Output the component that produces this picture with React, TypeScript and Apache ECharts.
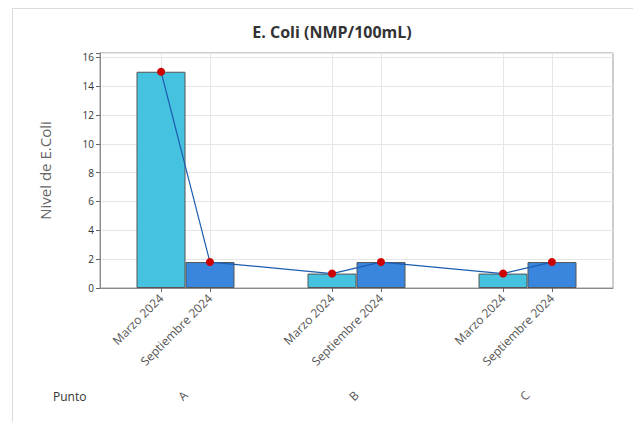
import React, { useEffect, useRef } from "react";
import * as echarts from "echarts";

const puntos = ["A", "B", "C"];
const periodos = ["Marzo 2024", "Septiembre 2024"];
const marzo = [15, 1, 1];
const septiembre = [1.8, 1.8, 1.8];
const yMax = 16.3;
const yInterval = 2;

const FONT = "'Open Sans', Lato, sans-serif";

// fine-grained point axis used for the period labels, ticks and the connecting line
const SLOTS = 43;
const slotIndex = (g: number, p: number) => 5 + 14 * g + 4 * p;

export default function App() {
  const ref = useRef<HTMLDivElement>(null);
  useEffect(() => {
    if (!ref.current) return;
    const chart = echarts.init(ref.current, null, { renderer: "svg" });
    const fineLabels: string[] = new Array(SLOTS).fill("");
    const lineData: (number | null)[] = new Array(SLOTS).fill(null);
    const series = [marzo, septiembre];
    puntos.forEach((_, g) => {
      periodos.forEach((per, p) => {
        fineLabels[slotIndex(g, p)] = per;
        lineData[slotIndex(g, p)] = series[p][g];
      });
    });
    const shown = (i: number) => fineLabels[i] !== "";
    chart.setOption({
      animation: false,
      title: {
        text: "E. Coli (NMP/100mL)",
        left: 327,
        top: 19,
        textAlign: "center",
        textStyle: { fontFamily: FONT, fontSize: 16, fontWeight: "bold", color: "#333" },
      },
      graphic: [
        { type: "line", shape: { x1: 12, y1: 8.5, x2: 633, y2: 8.5 }, style: { stroke: "#dcdcdc", lineWidth: 1 } },
        { type: "line", shape: { x1: 12.5, y1: 8, x2: 12.5, y2: 422 }, style: { stroke: "#dcdcdc", lineWidth: 1 } },
        {
          type: "text",
          left: 53,
          top: 390,
          style: { text: "Punto", fontFamily: FONT, fontSize: 12, fill: "#333" },
        },
      ],
      grid: {
        left: 100,
        right: 20,
        top: 53,
        bottom: 134,
        show: true,
        borderColor: "#9a9a9a",
        borderWidth: 1,
        backgroundColor: "#fff",
      },
      xAxis: [
        {
          type: "category",
          data: puntos,
          position: "bottom",
          axisLine: { show: false },
          axisTick: { show: false },
          splitLine: { show: false },
          axisLabel: {
            rotate: 45,
            margin: 105,
            fontFamily: FONT,
            fontSize: 12,
            color: "#555",
          },
        },
        {
          type: "category",
          data: fineLabels,
          boundaryGap: false,
          position: "bottom",
          axisLine: { show: true, lineStyle: { color: "#8a8a8a" } },
          axisTick: { show: true, length: 4, interval: (i: number) => shown(i), lineStyle: { color: "#666" } },
          splitLine: { show: true, interval: (i: number) => shown(i), lineStyle: { color: "#e6e6e6" } },
          axisLabel: {
            interval: (i: number) => shown(i),
            rotate: 45,
            margin: 8,
            fontFamily: FONT,
            fontSize: 12,
            color: "#555",
          },
        },
      ],
      yAxis: {
        type: "value",
        min: 0,
        max: yMax,
        interval: yInterval,
        name: "Nivel de E.Coli",
        nameLocation: "middle",
        nameGap: 48,
        nameTextStyle: { fontFamily: FONT, fontSize: 15, color: "#666" },
        axisLine: { show: true, lineStyle: { color: "#8a8a8a" } },
        axisTick: { show: true, length: 4, lineStyle: { color: "#666" } },
        splitLine: { show: true, lineStyle: { color: "#e6e6e6" } },
        axisLabel: {
          formatter: (v: number) => (Math.abs(v % yInterval) < 1e-9 ? String(v) : ""),
          fontFamily: FONT,
          fontSize: 10,
          color: "#333",
          margin: 6,
        },
      },
      series: [
        {
          name: periodos[0],
          type: "bar",
          xAxisIndex: 0,
          data: marzo,
          barWidth: 49,
          barGap: "0%",
          itemStyle: { color: "#45c2e0", borderColor: "#555", borderWidth: 1 },
        },
        {
          name: periodos[1],
          type: "bar",
          xAxisIndex: 0,
          data: septiembre,
          barWidth: 49,
          barGap: "0%",
          itemStyle: { color: "#3a86de", borderColor: "#555", borderWidth: 1 },
        },
        {
          type: "line",
          xAxisIndex: 1,
          data: lineData,
          connectNulls: true,
          symbol: "circle",
          symbolSize: 8,
          z: 5,
          lineStyle: { color: "#1c5db0", width: 1.2 },
          itemStyle: { color: "#cc0000" },
        },
      ],
    });
    return () => chart.dispose();
  }, []);
  return (
    <div
      ref={ref}
      style={{ position: "absolute", left: 0, top: 0, width: 633, height: 422, background: "#fff" }}
    />
  );
}
